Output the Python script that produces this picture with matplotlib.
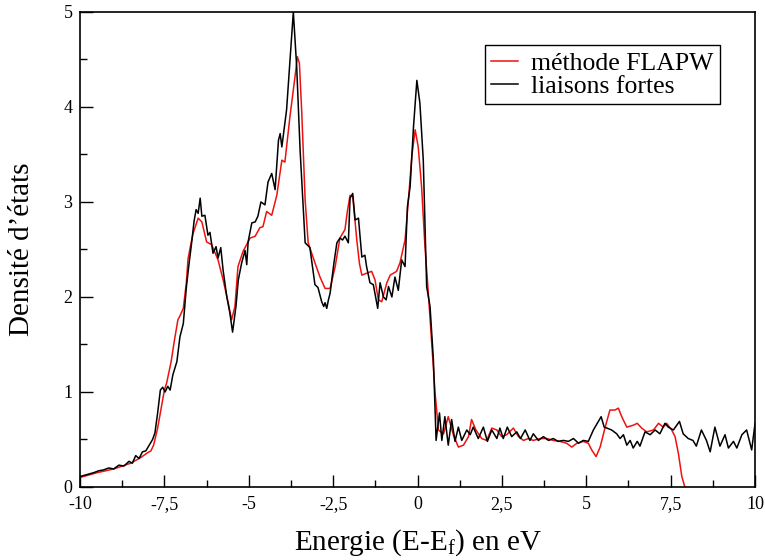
import matplotlib
matplotlib.use('Agg')
import matplotlib.pyplot as plt

plt.rcParams['font.family'] = ['Liberation Serif', 'DejaVu Serif']
plt.rcParams['mathtext.fontset'] = 'custom'
plt.rcParams['mathtext.rm'] = 'Liberation Serif'
plt.rcParams['mathtext.it'] = 'Liberation Serif:italic'

# --- données ---
# liaisons fortes (noir)
E_tb = [-10.0, -9.8, -9.6, -9.45, -9.3, -9.15, -9.0, -8.85, -8.7, -8.55, -8.45, -8.35,
        -8.25, -8.15, -8.05, -7.95, -7.85, -7.78, -7.7, -7.62, -7.55, -7.48, -7.4, -7.33,
        -7.25, -7.13, -7.04, -6.94, -6.85, -6.78, -6.7, -6.62, -6.56, -6.5, -6.44, -6.39,
        -6.3, -6.21, -6.15, -6.06, -5.97, -5.91, -5.83, -5.76, -5.65, -5.56, -5.48, -5.38,
        -5.31, -5.21, -5.11, -5.06, -5.02, -4.91, -4.81, -4.73, -4.64, -4.52, -4.43, -4.32,
        -4.22, -4.12, -4.07, -4.02, -3.88, -3.78, -3.68, -3.58, -3.48, -3.33, -3.19, -3.04,
        -2.95, -2.84, -2.78, -2.74, -2.69, -2.64, -2.59, -2.48, -2.39, -2.3, -2.22, -2.15,
        -2.05, -2.0, -1.92, -1.85, -1.75, -1.65, -1.56, -1.51, -1.41, -1.31, -1.18, -1.11,
        -1.01, -0.93, -0.86, -0.76, -0.67, -0.57, -0.47, -0.37, -0.3, -0.22, -0.12, -0.02,
        0.07, 0.17, 0.27, 0.37, 0.47, 0.55, 0.65, 0.72, 0.81, 0.91, 1.01, 1.11, 1.21, 1.31,
        1.46, 1.56, 1.65, 1.8, 1.95, 2.07, 2.2, 2.35, 2.44, 2.54, 2.66, 2.79, 2.94, 3.05,
        3.19, 3.33, 3.43, 3.58, 3.73, 3.88, 4.02, 4.17, 4.32, 4.47, 4.62, 4.77, 4.91, 5.06,
        5.21, 5.36, 5.44, 5.53, 5.61, 5.75, 5.9, 6.0, 6.1, 6.2, 6.3, 6.39, 6.51, 6.59, 6.74,
        6.89, 7.04, 7.18, 7.33, 7.43, 7.58, 7.76, 7.87, 8.02, 8.16, 8.26, 8.41, 8.56, 8.67,
        8.81, 8.96, 9.11, 9.21, 9.36, 9.46, 9.61, 9.75, 9.9, 10.0]
D_tb = [0.11, 0.13, 0.15, 0.17, 0.18, 0.20, 0.19, 0.23, 0.22, 0.27, 0.25, 0.33,
        0.30, 0.37, 0.38, 0.44, 0.50, 0.57, 0.78, 1.02, 1.05, 1.00, 1.06, 1.02,
        1.18, 1.32, 1.58, 1.72, 2.10, 2.32, 2.55, 2.80, 2.92, 2.88, 3.04, 2.85,
        2.86, 2.65, 2.68, 2.46, 2.53, 2.41, 2.52, 2.28, 2.00, 1.83, 1.63, 1.90,
        2.18, 2.36, 2.49, 2.34, 2.58, 2.78, 2.79, 2.85, 3.00, 2.97, 3.21, 3.30,
        3.13, 3.65, 3.72, 3.58, 3.97, 4.49, 5.00, 4.42, 3.55, 2.57, 2.52, 2.13,
        2.10, 1.95, 1.90, 1.94, 1.88, 1.97, 2.04, 2.35, 2.57, 2.62, 2.60, 2.64,
        2.57, 3.04, 3.09, 2.81, 2.83, 2.42, 2.44, 2.32, 2.15, 2.13, 1.88, 2.15,
        2.00, 1.97, 2.11, 2.00, 2.21, 2.07, 2.39, 2.32, 2.95, 3.16, 3.79, 4.28,
        4.04, 3.44, 2.11, 1.90, 1.34, 0.49, 0.78, 0.49, 0.74, 0.44, 0.71, 0.48, 0.63, 0.49,
        0.60, 0.55, 0.63, 0.51, 0.63, 0.48, 0.60, 0.51, 0.62, 0.51, 0.63, 0.53, 0.58, 0.51,
        0.60, 0.49, 0.56, 0.49, 0.53, 0.49, 0.51, 0.48, 0.49, 0.48, 0.51, 0.46, 0.49, 0.48,
        0.60, 0.69, 0.74, 0.63, 0.62, 0.60, 0.56, 0.51, 0.55, 0.44, 0.49, 0.41, 0.48, 0.43, 0.58,
        0.55, 0.60, 0.56, 0.67, 0.63, 0.60, 0.69, 0.56, 0.51, 0.49, 0.43, 0.60, 0.49, 0.37,
        0.63, 0.43, 0.55, 0.41, 0.48, 0.41, 0.55, 0.60, 0.39, 0.67]

# méthode FLAPW (rouge)
E_fl = [-10.0, -9.5, -9.0, -8.5, -8.2, -8.0, -7.9, -7.82, -7.7, -7.6, -7.5, -7.43, -7.3,
        -7.2, -7.1, -7.04, -6.94, -6.85, -6.8, -6.72, -6.65, -6.5, -6.39, -6.25, -6.1,
        -5.91, -5.76, -5.61, -5.51, -5.41, -5.32, -5.17, -4.96, -4.81, -4.67, -4.58, -4.47,
        -4.32, -4.17, -4.02, -3.93, -3.78, -3.63, -3.56, -3.5, -3.43, -3.33, -3.24, -3.04,
        -2.89, -2.74, -2.59, -2.44, -2.3, -2.15, -2.08, -2.0, -1.92, -1.8, -1.72, -1.65,
        -1.51, -1.36, -1.26, -1.16, -1.06, -0.91, -0.81, -0.62, -0.52, -0.37, -0.27, -0.17,
        -0.07, 0.02, 0.12, 0.22, 0.32, 0.42, 0.52, 0.62, 0.72, 0.77, 0.91, 1.06, 1.21, 1.36,
        1.51, 1.6, 1.73, 1.9, 2.05, 2.2, 2.35, 2.49, 2.64, 2.84, 2.99, 3.14, 3.28, 3.43,
        3.63, 3.83, 4.02, 4.22, 4.42, 4.57, 4.72, 4.91, 5.06, 5.16, 5.29, 5.41, 5.56, 5.7,
        5.85, 5.95, 6.05, 6.2, 6.39, 6.51, 6.64, 6.79, 6.99, 7.14, 7.28, 7.38, 7.53, 7.63,
        7.73, 7.83, 7.92]
D_fl = [0.10, 0.15, 0.19, 0.25, 0.31, 0.36, 0.38, 0.44, 0.62, 0.82, 1.02, 1.10, 1.32,
        1.55, 1.76, 1.80, 1.88, 2.15, 2.40, 2.55, 2.67, 2.83, 2.79, 2.58, 2.55,
        2.39, 2.18, 1.94, 1.76, 1.90, 2.32, 2.48, 2.62, 2.64, 2.73, 2.74, 2.90,
        2.86, 3.07, 3.44, 3.42, 3.90, 4.32, 4.53, 4.46, 3.94, 3.02, 2.57, 2.36,
        2.21, 2.09, 2.09, 2.32, 2.62, 2.71, 2.90, 3.07, 3.06, 2.60, 2.35, 2.23,
        2.25, 2.27, 2.18, 1.97, 1.95, 2.15, 2.23, 2.27, 2.36, 2.60, 3.02, 3.48,
        3.76, 3.58, 3.16, 2.53, 2.04, 1.52, 0.99, 0.60, 0.57, 0.56, 0.74, 0.55, 0.42, 0.44,
        0.53, 0.71, 0.60, 0.51, 0.49, 0.62, 0.60, 0.53, 0.55, 0.62, 0.53, 0.49, 0.51, 0.49,
        0.51, 0.51, 0.49, 0.48, 0.46, 0.42, 0.46, 0.48, 0.46, 0.39, 0.32, 0.42, 0.63, 0.81,
        0.81, 0.83, 0.74, 0.63, 0.65, 0.67, 0.62, 0.58, 0.60, 0.67, 0.63, 0.67, 0.60, 0.53,
        0.35, 0.11, 0.0]

xticks = [-10, -7.5, -5, -2.5, 0, 2.5, 5, 7.5, 10]
xtick_labels = ['-10', '-7,5', '-5', '-2,5', '0', '2,5', '5', '7,5', '10']
yticks = [0, 1, 2, 3, 4, 5]

fig = plt.figure(figsize=(7.65, 5.6), dpi=100)
ax = fig.add_axes([0.1046, 0.1304, 0.8824, 0.8482])

ax.plot(E_fl, D_fl, color='#ee1111', lw=1.1, label='méthode FLAPW')
ax.plot(E_tb, D_tb, color='black', lw=1.1, label='liaisons fortes')

ax.set_xlim(-10, 10)
ax.set_ylim(0, 5)
ax.set_xticks(xticks)
ax.set_xticklabels(xtick_labels)
ax.set_yticks(yticks)
ax.set_xticks([-8.75, -6.25, -3.75, -1.25, 1.25, 3.75, 6.25, 8.75], minor=True)
ax.set_yticks([0.5, 1.5, 2.5, 3.5, 4.5], minor=True)
ax.tick_params(which='both', direction='in', labelsize=13, width=1.0)
ax.tick_params(axis='x', which='major', length=9, pad=6.5)
ax.tick_params(axis='y', which='major', length=9, pad=5.5)
ax.tick_params(which='minor', length=5)
for s in ax.spines.values():
    s.set_linewidth(1.2)

ax.set_xlabel(r'Energie (E-E$_{\mathrm{f}}$) en eV', fontsize=21, labelpad=10)
ax.set_ylabel('Densité d’états', fontsize=21, labelpad=20)

leg = ax.legend(loc='upper left', bbox_to_anchor=(0.60, 0.93), borderaxespad=0,
                fontsize=18.5, fancybox=False, framealpha=1, edgecolor='black',
                handlelength=1.05, handletextpad=0.5, labelspacing=0.0,
                borderpad=0.25)
leg.get_frame().set_linewidth(1.0)

fig.savefig('out.png', dpi=100)
